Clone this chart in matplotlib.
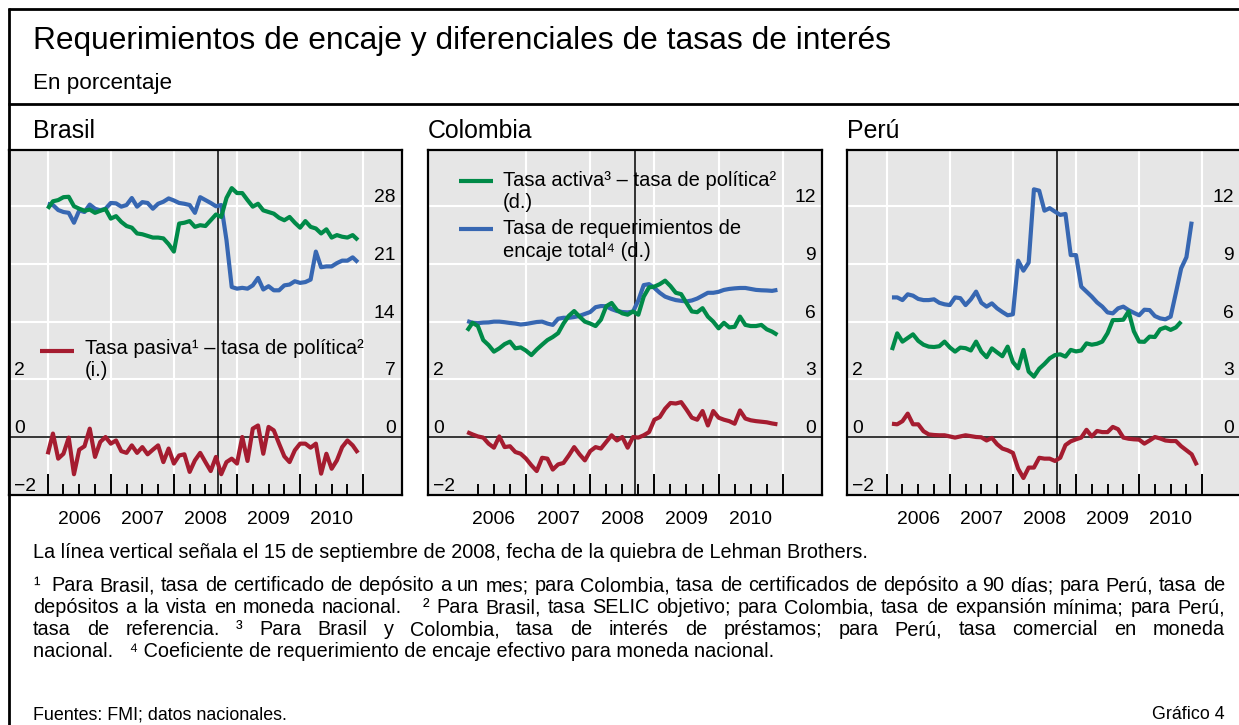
import numpy as np
import matplotlib
matplotlib.use("Agg")
import matplotlib.pyplot as plt
from matplotlib.lines import Line2D

plt.rcParams['font.family'] = ['Liberation Sans', 'DejaVu Sans']

# ---------------- data ----------------
year_labels = ['2006', '2007', '2008', '2009', '2010']
label_years = [2006, 2007, 2008, 2009, 2010]
lehman = 2008 + (8 + 14 / 30) / 12          # 15 Sep 2008

# monthly series (first month index: 1 = Jan 2006)
brasil_first_month = 1
brasil_pasiva = [-0.6, 0.12, -0.75, -0.58, -0.02, -1.29, -0.44, -0.32, 0.29, -0.69,
                 -0.17, 0.0, -0.23, -0.12, -0.49, -0.55, -0.29, -0.55, -0.35, -0.6,
                 -0.44, -0.29, -0.87, -0.4, -0.92, -0.64, -0.6, -1.21, -0.81, -0.55,
                 -0.87, -1.18, -0.69, -1.29, -0.87, -0.75, -0.92, 0.0, -0.83, 0.29,
                 0.4, -0.58, 0.35, 0.23, -0.23, -0.67, -0.87, -0.46, -0.23, -0.23,
                 -0.37, -0.23, -1.27, -0.58, -1.1, -0.81, -0.35, -0.12, -0.29, -0.55]
brasil_activa = [27.7, 28.6, 28.75, 29.1, 29.15, 28.0, 27.7, 27.45, 27.6, 27.2,
                 27.45, 27.65, 26.5, 26.8, 26.1, 25.6, 25.4, 24.7, 24.6, 24.4,
                 24.2, 24.2, 24.1, 23.4, 22.5, 25.9, 26.0, 26.2, 25.5, 25.7,
                 25.6, 26.3, 27.0, 26.7, 29.0, 30.2, 29.6, 29.6, 28.75, 27.95,
                 28.3, 27.5, 27.3, 27.1, 26.6, 26.3, 26.7, 26.0, 25.4, 26.2,
                 25.5, 25.3, 24.7, 25.2, 24.2, 24.5, 24.3, 24.2, 24.5, 23.9]
brasil_encaje = [28.3, 28.15, 27.54, 27.3, 27.2, 26.0, 27.5, 27.3, 28.2, 27.7,
                 27.5, 27.7, 28.4, 28.35, 27.95, 28.15, 29.0, 27.95, 28.5, 28.4,
                 27.7, 28.3, 28.55, 28.95, 28.7, 28.4, 28.3, 28.15, 27.2, 29.1,
                 28.75, 28.4, 28.0, 28.15, 23.9, 18.2, 18.0, 18.1, 18.0, 18.4,
                 19.3, 17.9, 18.3, 17.8, 17.8, 18.4, 18.5, 18.9, 18.7, 18.8,
                 19.1, 22.5, 20.6, 20.7, 20.7, 21.1, 21.4, 21.4, 21.8, 21.2]

colombia_first_month = 2
colombia_pasiva = [0.17, 0.09, 0.02, -0.02, -0.23, -0.37, 0.02, -0.35, -0.32, -0.52,
                   -0.58, -0.75, -0.98, -1.18, -0.72, -0.75, -1.13, -0.95, -0.9, -0.64,
                   -0.35, -0.6, -0.81, -0.49, -0.35, -0.4, -0.17, 0.06, -0.12, 0.0,
                   -0.37, 0.0, -0.02, 0.06, 0.17, 0.6, 0.69, 0.98, 1.18, 1.16,
                   1.21, 0.95, 0.67, 0.6, 0.9, 0.4, 0.9, 0.67, 0.6, 0.55,
                   0.46, 0.92, 0.64, 0.58, 0.55, 0.53, 0.51, 0.47, 0.44]
colombia_activa = [5.53, 5.94, 5.77, 5.04, 4.78, 4.44, 4.61, 4.83, 4.96, 4.61,
                   4.66, 4.49, 4.26, 4.55, 4.8, 5.04, 5.2, 5.4, 5.9, 6.3,
                   6.55, 6.26, 6.0, 5.9, 5.77, 6.1, 6.8, 6.97, 6.6, 6.43,
                   6.36, 6.53, 6.36, 7.3, 7.78, 7.82, 7.95, 8.13, 7.85, 7.5,
                   7.43, 6.97, 6.53, 6.49, 6.7, 6.26, 6.0, 5.65, 5.94, 5.7,
                   5.73, 6.26, 5.83, 5.77, 5.77, 5.83, 5.6, 5.48, 5.31]
colombia_encaje = [6.03, 5.94, 5.92, 5.95, 5.96, 6.0, 6.0, 5.97, 5.93, 5.9,
                   5.85, 5.88, 5.93, 5.98, 6.0, 5.9, 5.83, 6.15, 6.2, 6.2,
                   6.24, 6.3, 6.4, 6.5, 6.75, 6.81, 6.8, 6.65, 6.55, 6.5,
                   6.48, 6.52, 7.1, 7.9, 7.95, 7.75, 7.5, 7.3, 7.2, 7.12,
                   7.08, 7.05, 7.1, 7.2, 7.35, 7.5, 7.5, 7.55, 7.65, 7.7,
                   7.73, 7.75, 7.75, 7.7, 7.65, 7.63, 7.62, 7.6, 7.65]

peru_first_month = 2
peru_pasiva = [0.46, 0.44, 0.55, 0.81, 0.44, 0.44, 0.2, 0.09, 0.07, 0.06,
               0.06, 0.02, -0.02, 0.02, 0.06, 0.03, 0.0, -0.01, -0.12, -0.03,
               -0.25, -0.4, -0.46, -0.55, -1.1, -1.42, -1.06, -1.06, -0.72, -0.75,
               -0.75, -0.83, -0.72, -0.28, -0.15, -0.08, -0.02, 0.25, 0.02, 0.21,
               0.17, 0.17, 0.35, 0.27, -0.02, -0.06, -0.08, -0.09, -0.23, -0.12,
               0.0, -0.05, -0.12, -0.14, -0.14, -0.32, -0.46, -0.6, -0.98]
peru_activa = [4.52, 5.39, 4.96, 5.15, 5.34, 5.0, 4.8, 4.7, 4.68, 4.72,
               4.96, 4.66, 4.44, 4.65, 4.62, 4.5, 4.96, 4.44, 4.15, 4.61,
               4.4, 4.2, 4.7, 3.9, 3.57, 4.53, 3.4, 3.14, 3.55, 3.8,
               4.09, 4.26, 4.3, 4.18, 4.53, 4.45, 4.5, 4.87, 4.8, 4.85,
               4.96, 5.4, 6.08, 6.08, 6.1, 6.53, 5.5, 4.96, 4.95, 5.22,
               5.2, 5.6, 5.7, 5.57, 5.7, 6.0]
peru_encaje = [7.26, 7.26, 7.12, 7.42, 7.35, 7.18, 7.12, 7.12, 7.16, 6.98,
               6.9, 6.86, 7.26, 7.22, 6.86, 7.16, 7.56, 6.98, 6.78, 6.95,
               6.69, 6.5, 6.33, 6.38, 9.17, 8.65, 9.07, 12.88, 12.81, 11.77,
               11.9, 11.72, 11.55, 11.6, 9.46, 9.46, 7.82, 7.56, 7.3, 7.0,
               6.78, 6.48, 6.43, 6.69, 6.78, 6.6, 6.46, 6.33, 6.62, 6.6,
               6.29, 6.17, 6.12, 6.26, 7.5, 8.77, 9.35, 11.2]

left_ticks = [-2, 0, 2]
left_tick_labels = ['\u22122', '0', '2']
brasil_right_ticks = [0, 7, 14, 21, 28]
other_right_ticks = [0, 3, 6, 9, 12]
brasil_year_lines = [2006, 2007, 2008, 2009, 2010, 2011]
colombia_year_lines = [2007, 2008, 2009, 2010, 2011]
peru_year_lines = [2006, 2007, 2008, 2009, 2010, 2011]

# ---------------- style ----------------
RED = '#A51C30'
GREEN = '#008A48'
BLUE = '#3767B2'
BG = '#E6E6E6'
LW = 3.0
TICK_FS = 13.9
LEG_FS = 14.5
FOOT_FS = 14.3
SRC_FS = 12.9
W, H = 1239, 725

fig = plt.figure(figsize=(W / 100, H / 100), dpi=100)
fig.patch.set_facecolor('white')


def fx(px):
    return px / W


def fy(py):
    return 1 - py / H


def months(first, n):
    return 2006 + (first - 1 + np.arange(n)) / 12


def panel(x0, x1, xlim, right_ticks, scale, first, pasiva, activa, encaje, year_lines):
    y0, y1 = 150, 494.7
    ax = fig.add_axes([fx(x0), fy(y1), (x1 - x0) / W, (y1 - y0) / H])
    ax.set_facecolor(BG)
    ax.set_xlim(*xlim)
    ax.set_ylim(-2, 9.95)
    for s in ax.spines.values():
        s.set_linewidth(1.6)
        s.set_color('black')

    # y grid / left labels
    grid_pos = sorted(set(left_ticks) | {t / scale for t in right_ticks})
    labels = [left_tick_labels[left_ticks.index(p)] if p in left_ticks else '' for p in grid_pos]
    ax.set_yticks(grid_pos, labels=labels)
    ax.tick_params(axis='y', length=0, pad=-3.6, labelsize=TICK_FS)
    for lab in ax.get_yticklabels():
        lab.set_ha('left')
        lab.set_va('bottom')

    # x: year boundaries (long ticks + grid), quarters (short ticks)
    ax.set_xticks(year_lines, labels=[''] * len(year_lines))
    quarters = [y + q for y in label_years for q in (0.25, 0.75)]
    ax.set_xticks(quarters, minor=True)
    ax.tick_params(axis='x', which='major', direction='in', length=15, width=1.4, color='black')
    ax.tick_params(axis='x', which='minor', direction='in', length=8, width=1.4, color='black')
    ax.grid(True, which='major', color='white', lw=1.5)
    ax.set_axisbelow(True)

    sec = ax.secondary_xaxis('bottom')
    sec.set_xticks([y + 0.5 for y in label_years], labels=year_labels)
    sec.tick_params(direction='in', length=8, width=1.4, pad=11.5, labelsize=TICK_FS)
    sec.spines['bottom'].set_visible(False)

    ax.axhline(0, color='black', lw=1.1, zorder=2)
    ax.axvline(lehman, color='black', lw=1.1, zorder=2)
    ax.plot(months(first, len(pasiva)), pasiva, color=RED, lw=LW, zorder=3,
            solid_joinstyle='round', solid_capstyle='butt')

    ax2 = ax.twinx()
    ax2.set_ylim(-2 * scale, 9.95 * scale)
    for s in ax2.spines.values():
        s.set_visible(False)
    ax2.set_yticks(right_ticks, labels=[str(t) for t in right_ticks])
    ax2.tick_params(axis='y', length=0, pad=-4.6, labelsize=TICK_FS)
    for lab in ax2.get_yticklabels():
        lab.set_ha('right')
        lab.set_va('bottom')
    ax2.plot(months(first, len(encaje)), encaje, color=BLUE, lw=LW,
             solid_joinstyle='round', solid_capstyle='butt')
    ax2.plot(months(first, len(activa)), activa, color=GREEN, lw=LW,
             solid_joinstyle='round', solid_capstyle='butt')
    return ax, ax2


panel(9, 402, (2005.387, 2011.615), brasil_right_ticks, 3.5, brasil_first_month,
      brasil_pasiva, brasil_activa, brasil_encaje, brasil_year_lines)
panel(428, 822, (2005.473, 2011.611), other_right_ticks, 1.5, colombia_first_month,
      colombia_pasiva, colombia_activa, colombia_encaje, colombia_year_lines)
panel(847, 1240.5, (2005.371, 2011.607), other_right_ticks, 1.5, peru_first_month,
      peru_pasiva, peru_activa, peru_encaje, peru_year_lines)


# ---------------- frame & texts ----------------
def hline(x0, x1, y, lw=2.0):
    fig.add_artist(Line2D([fx(x0), fx(x1)], [fy(y), fy(y)], transform=fig.transFigure,
                          color='black', lw=lw, solid_capstyle='butt'))


def vline(x, y0, y1, lw=2.0):
    fig.add_artist(Line2D([fx(x), fx(x)], [fy(y0), fy(y1)], transform=fig.transFigure,
                          color='black', lw=lw, solid_capstyle='butt'))


hline(8, 1239, 9)
hline(8, 1239, 104)
vline(9, 8, 725)


def txt(x, y, s, size, **kw):
    kw.setdefault('va', 'center')
    return fig.text(fx(x), fy(y), s, fontsize=size, color='black', **kw)


txt(33, 41, 'Requerimientos de encaje y diferenciales de tasas de interés', 22.9)
txt(33, 83, 'En porcentaje', 16.2)
txt(33, 131, 'Brasil', 17.9)
txt(428, 131, 'Colombia', 17.9)
txt(847, 131, 'Perú', 17.9)


def legend_key(x0, x1, y, color):
    fig.add_artist(Line2D([fx(x0), fx(x1)], [fy(y), fy(y)], transform=fig.transFigure,
                          color=color, lw=LW, solid_capstyle='butt'))


legend_key(40, 74, 350.7, RED)
txt(85, 349, 'Tasa pasiva\u00b9 \u2013 tasa de política\u00b2', LEG_FS)
txt(85, 371, '(i.)', LEG_FS)

legend_key(459, 493, 180.7, GREEN)
txt(503, 180, 'Tasa activa\u00b3 \u2013 tasa de política\u00b2', LEG_FS)
txt(503, 202, '(d.)', LEG_FS)
legend_key(459, 493, 229.3, BLUE)
txt(503, 229, 'Tasa de requerimientos de', LEG_FS)
txt(503, 251, 'encaje total\u2074 (d.)', LEG_FS)

# footnotes: positioned on text baselines
txt(33, 558, 'La línea vertical señala el 15 de septiembre de 2008, fecha de la quiebra de Lehman Brothers.',
    FOOT_FS, va='baseline')

renderer = fig.canvas.get_renderer()


def justified(line, y, x0=33, x1=1225):
    tokens = line.split(' ')
    words, weights = [], []
    w = 0
    for tok in tokens:
        if tok == '':
            w += 1
            continue
        if words:
            weights.append(w + 1)
        words.append(tok)
        w = 0
    arts = [txt(0, y, s, FOOT_FS, va='baseline') for s in words]
    widths = [a.get_window_extent(renderer).width for a in arts]
    unit = (x1 - x0 - sum(widths)) / sum(weights)
    x = x0
    for i, (a, wd) in enumerate(zip(arts, widths)):
        a.set_position((fx(x), fy(y)))
        x += wd
        if i < len(weights):
            x += unit * weights[i]


justified('\u00b9  Para Brasil, tasa de certificado de depósito a un mes; para Colombia, tasa de certificados de depósito a 90 días; para Perú, tasa de', 591)
justified('depósitos a la vista en moneda nacional.   \u00b2 Para Brasil, tasa SELIC objetivo; para Colombia, tasa de expansión mínima; para Perú,', 613)
justified('tasa de referencia. \u00b3 Para Brasil y Colombia, tasa de interés de préstamos; para Perú, tasa comercial en moneda', 635)
txt(33, 657, 'nacional.   \u2074 Coeficiente de requerimiento de encaje efectivo para moneda nacional.',
    FOOT_FS, va='baseline')

txt(33, 719, 'Fuentes: FMI; datos nacionales.', SRC_FS, va='baseline')
txt(1225, 719, 'Gráfico 4', SRC_FS, ha='right', va='baseline')

fig.savefig('out.png', dpi=100)
